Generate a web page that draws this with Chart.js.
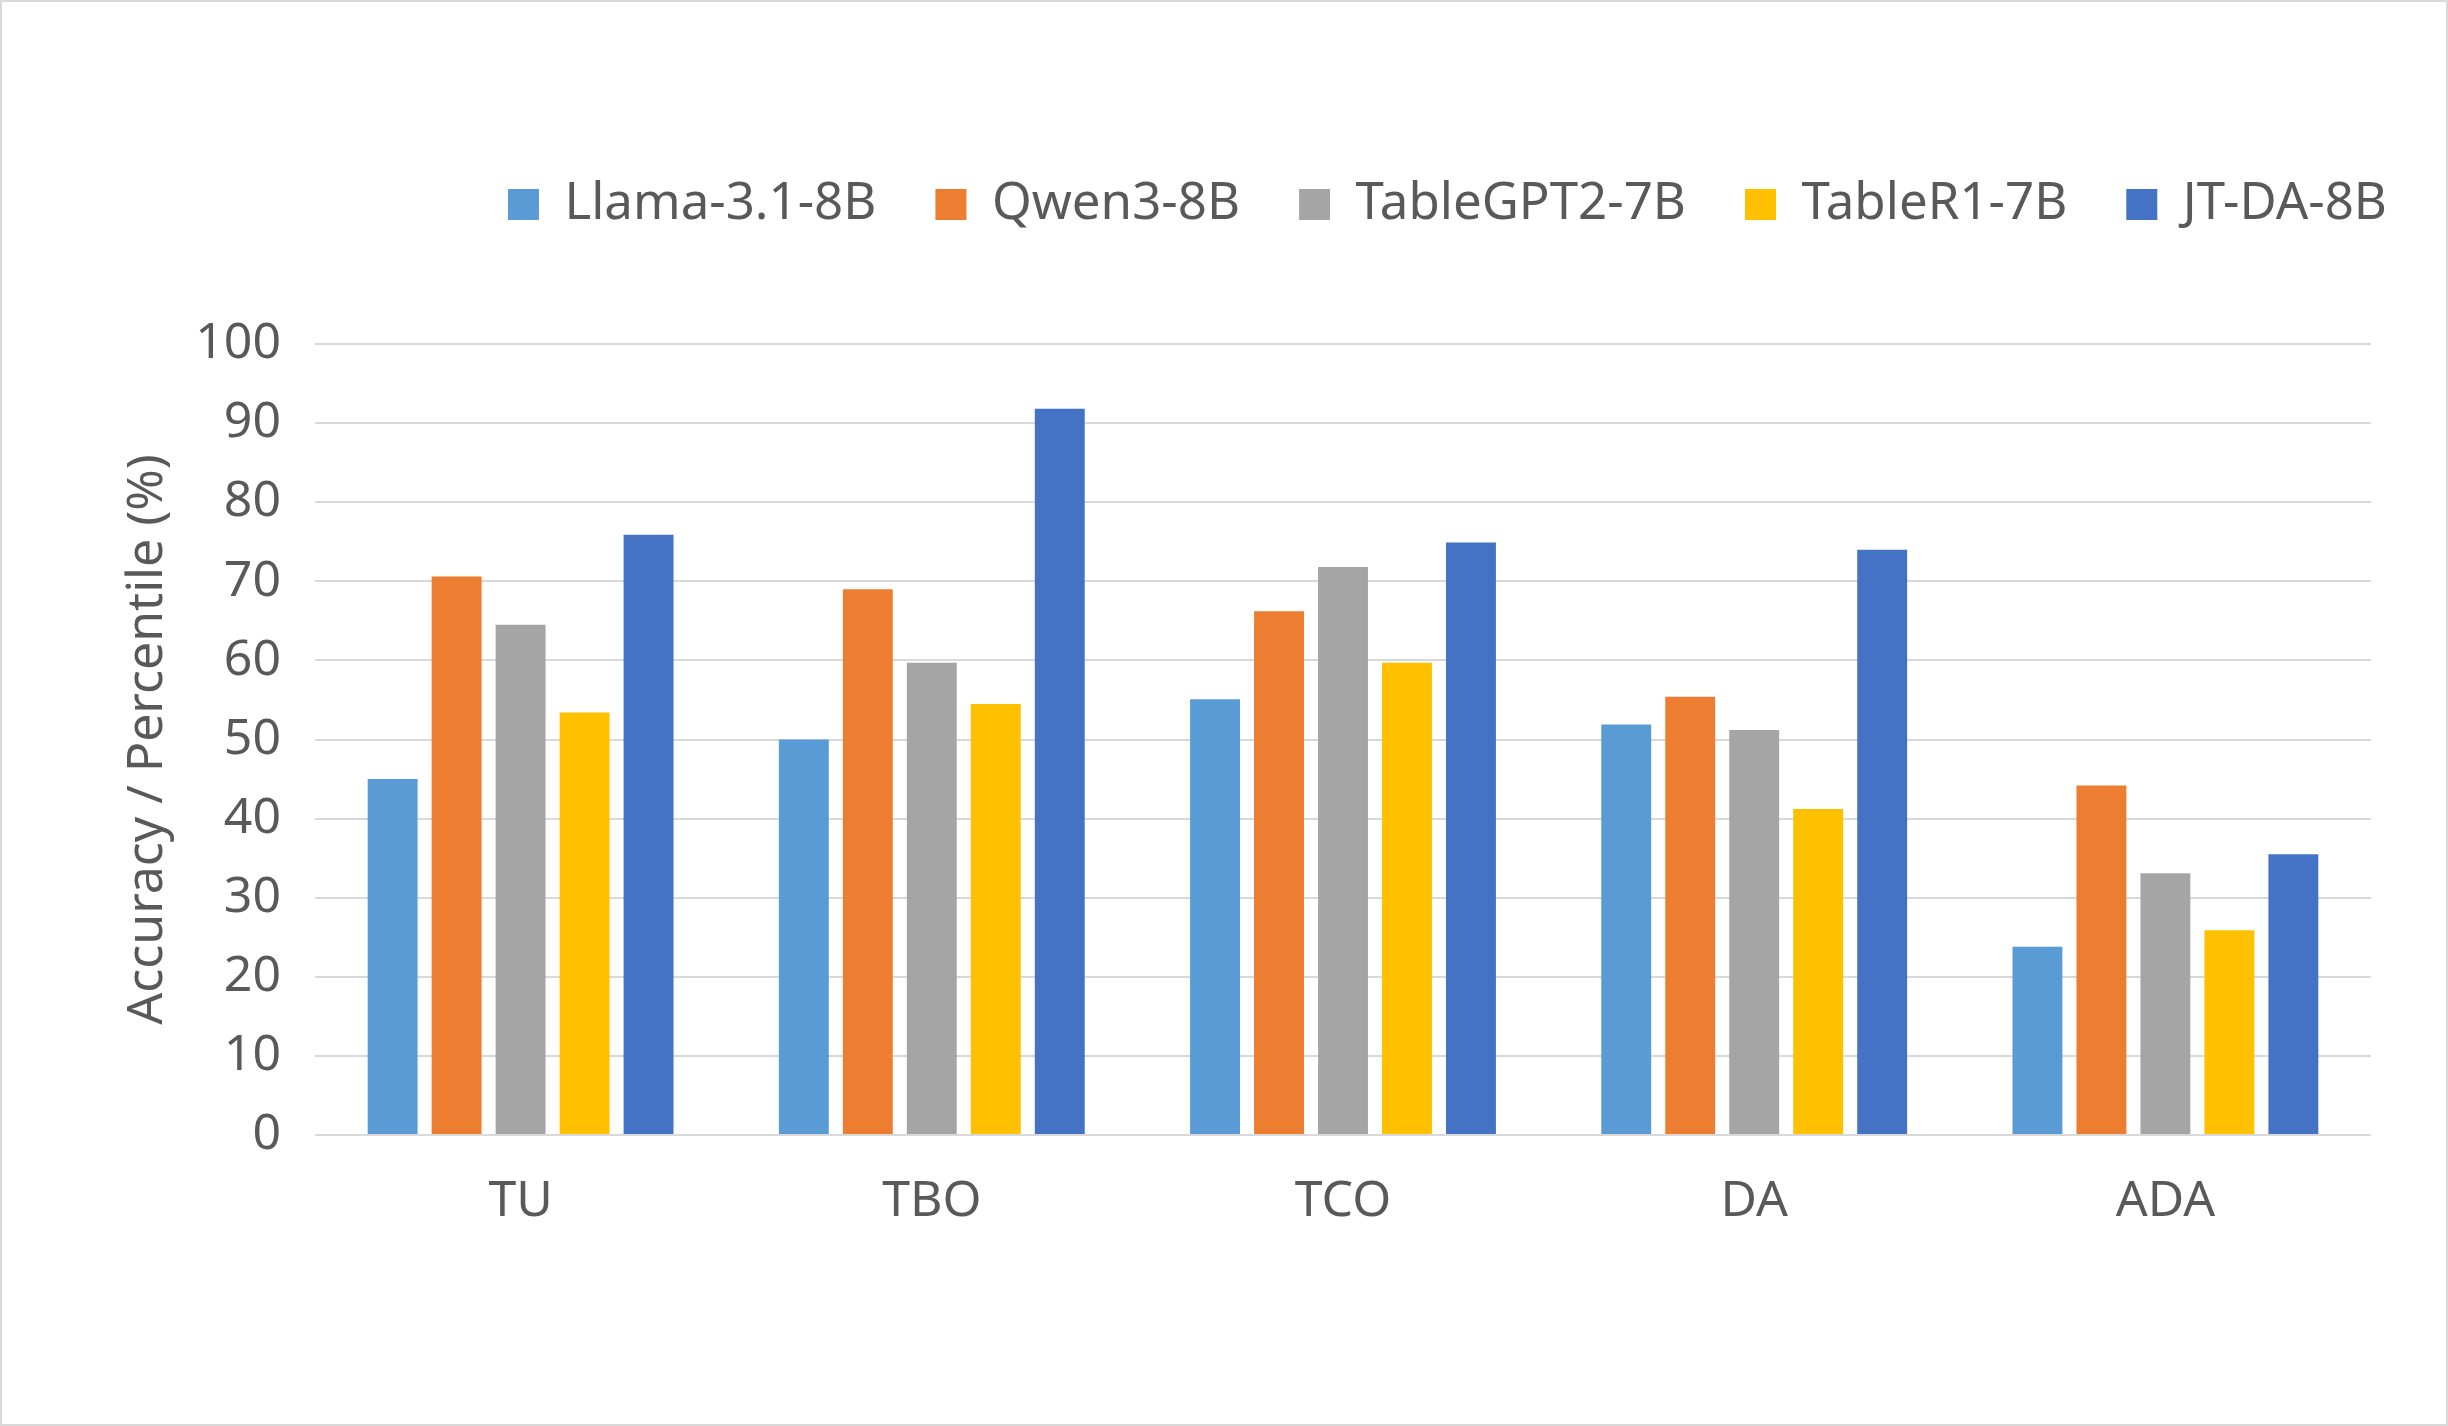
<!DOCTYPE html>
<html>
<head>
<meta charset="utf-8">
<title>Accuracy / Percentile</title>
<script src="https://cdn.jsdelivr.net/npm/chart.js@4.4.1/dist/chart.umd.min.js"></script>
<style>
  body { margin: 0; background: #fff; }
  #wrap { width: 2444px; height: 1422px; border: 2px solid #d9d9d9; }
  #myChart { display: block; }
</style>
</head>
<body>
<div id="wrap"><canvas id="myChart" width="2444" height="1422"></canvas></div>
<script>
// data
var categories = ['TU', 'TBO', 'TCO', 'DA', 'ADA'];
var models = ['Llama-3.1-8B', 'Qwen3-8B', 'TableGPT2-7B', 'TableR1-7B', 'JT-DA-8B'];
var llama = [45, 50, 55.1, 51.9, 23.8];
var qwen = [70.6, 69, 66.2, 55.4, 44.2];
var tablegpt = [64.5, 59.7, 71.8, 51.2, 33.1];
var tabler1 = [53.4, 54.5, 59.7, 41.2, 25.9];
var jtda = [75.9, 91.8, 74.9, 74.0, 35.5];
var yTicks = [0, 10, 20, 30, 40, 50, 60, 70, 80, 90, 100];

var colors = ['#5B9BD5', '#ED7D31', '#A5A5A5', '#FFC000', '#4472C4'];
var textColor = '#595959';

function drawBars(){
    var series = [llama, qwen, tablegpt, tabler1, jtda];
    var datasets = [];
    for (var i = 0; i < models.length; i++) {
        datasets.push({
            label: models[i],
            data: series[i],
            backgroundColor: colors[i],
            borderWidth: 0,
            categoryPercentage: 0.778,
            barPercentage: 0.78
        });
    }

    var ctx = document.getElementById('myChart').getContext('2d');
    var myBarChart = new Chart(ctx, {
        type: 'bar',
        data: { labels: categories, datasets: datasets },
        options: {
            responsive: false,
            animation: false,
            layout: { padding: { top: 118, right: 0, bottom: 0, left: 0 } },
            plugins: {
                tooltip: { enabled: false },
                legend: {
                    position: 'top',
                    align: 'end',
                    weight: 1000,
                    labels: {
                        color: textColor,
                        font: { family: 'Noto Sans', size: 51 },
                        boxWidth: 31,
                        boxHeight: 31,
                        padding: 59
                    }
                },
                // empty title used as a spacer between legend and plot
                title: {
                    display: true,
                    text: '',
                    position: 'top',
                    weight: 100,
                    font: { size: 10 },
                    padding: { top: 0, bottom: 92 }
                }
            },
            scales: {
                x: {
                    grid: { display: false, drawTicks: false },
                    border: { display: false },
                    ticks: {
                        color: textColor,
                        font: { family: 'Noto Sans', size: 50 },
                        padding: 37
                    },
                    afterFit: function(scale){ scale.height = 289; }
                },
                y: {
                    min: 0,
                    max: 100,
                    afterBuildTicks: function(scale){
                        scale.ticks = yTicks.map(function(v){ return { value: v }; });
                    },
                    grid: { color: '#d9d9d9', lineWidth: 2, drawTicks: false },
                    border: { display: false },
                    ticks: {
                        color: textColor,
                        font: { family: 'Noto Sans', size: 50 },
                        padding: 34
                    },
                    title: {
                        display: true,
                        text: 'Accuracy / Percentile (%)',
                        color: textColor,
                        font: { family: 'Noto Sans', size: 50 },
                        padding: { top: 116, bottom: 0 }
                    },
                    afterFit: function(scale){ scale.width = 313; }
                },
                // invisible right axis, only keeps space on the right of the plot
                yRight: {
                    position: 'right',
                    display: true,
                    grid: { display: false, drawTicks: false },
                    border: { display: false },
                    ticks: { display: false },
                    afterFit: function(scale){ scale.width = 75; }
                }
            }
        }
    });
}

drawBars();
</script>
</body>
</html>
